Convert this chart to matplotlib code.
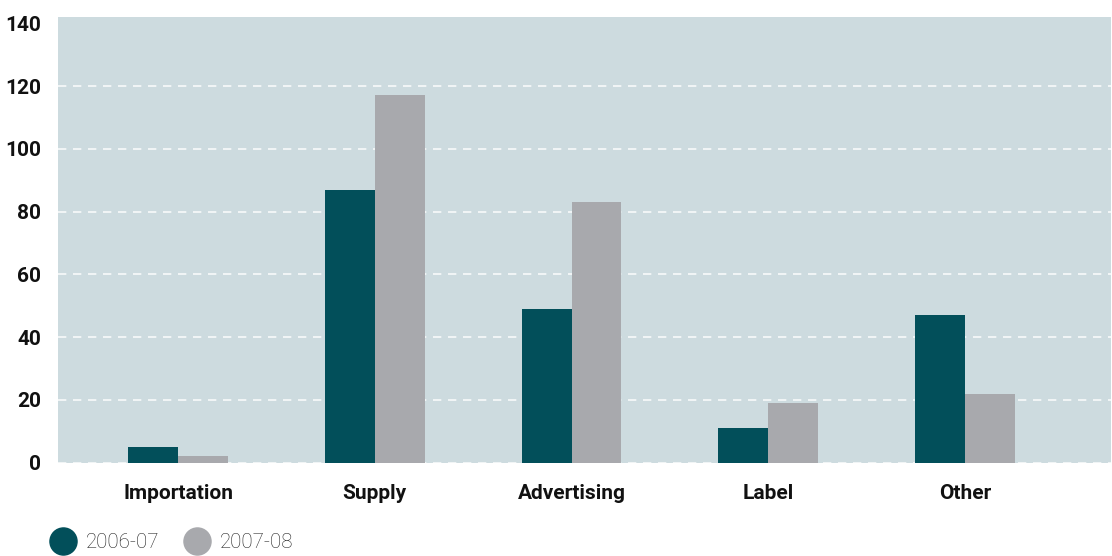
import numpy as np
from matplotlib import pyplot as plt
from matplotlib.lines import Line2D

categories = ["Importation", "Supply", "Advertising", "Label", "Other"]
values_2006 = [5, 87, 49, 11, 47]
values_2007 = [2, 117, 83, 19, 22]
series_names = ["2006-07", "2007-08"]

dark = "#024f5a"
grey = "#a8a9ad"
bg = "#cddbdf"

plt.rcParams['font.family'] = ['Roboto', 'DejaVu Sans']

fig = plt.figure(figsize=(11.12, 5.56), dpi=100)
ax = fig.add_axes([58 / 1112, 1 - 462.7 / 556, (1111 - 58) / 1112, (462.7 - 17) / 556])
ax.set_facecolor(bg)

x = np.arange(len(categories))
w = 0.254
ax.bar(x - w / 2, values_2006, w, color=dark, zorder=3)
ax.bar(x + w / 2, values_2007, w, color=grey, zorder=3)

ax.set_xlim(-0.61, 4.742)
ax.set_ylim(0, 142)
ax.set_yticks(range(0, 141, 20))
ax.set_xticks(x)
ax.set_xticklabels(categories)
for lab in ax.get_xticklabels() + ax.get_yticklabels():
    lab.set_fontweight('bold')
    lab.set_fontsize(15)
    lab.set_color('#111111')
ax.tick_params(axis='x', length=0, pad=15)
ax.tick_params(axis='y', length=0, pad=12)
for s in ax.spines.values():
    s.set_visible(False)
ax.grid(axis='y', color='white', linestyle=(0, (5, 4)), linewidth=1.2, alpha=0.85, zorder=1)
ax.get_ygridlines()[-1].set_visible(False)

handles = [Line2D([], [], marker='o', linestyle='', markersize=19.5, color=dark),
           Line2D([], [], marker='o', linestyle='', markersize=19.5, color=grey)]
leg = fig.legend(handles, series_names, loc='center left', bbox_to_anchor=(0.031, 1 - 543 / 556),
                 ncol=2, frameon=False, handlelength=1.0, handletextpad=0.6, columnspacing=1.35,
                 prop={'size': 14.8, 'weight': 'light'})
for t in leg.get_texts():
    t.set_color('#222222')

fig.savefig("out.png", dpi=100)
